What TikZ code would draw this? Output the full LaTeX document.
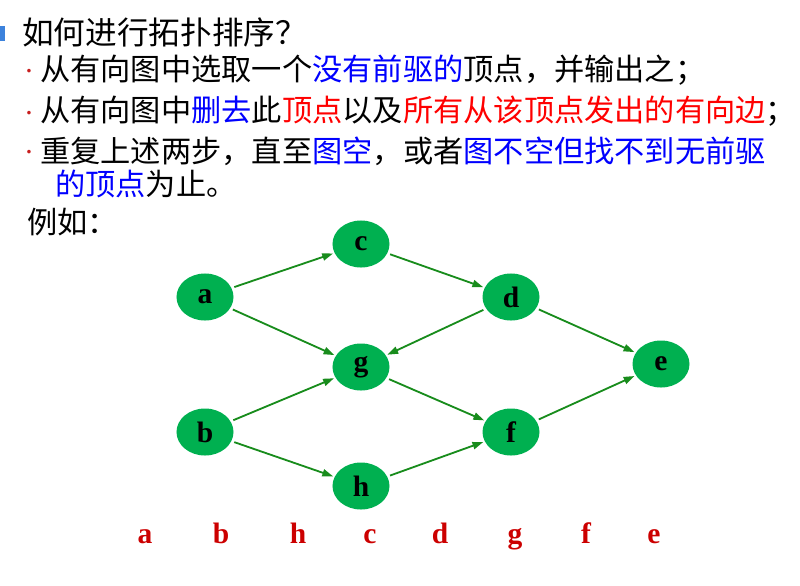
\documentclass[tikz,border=0pt]{standalone}
\usepackage{fontspec}
\setmainfont{Liberation Serif}
\newfontfamily\cjk{Noto Sans CJK SC}
\usepackage{xcolor}
\usetikzlibrary{shapes.geometric, arrows.meta}

\definecolor{nodegreen}{RGB}{0,176,80}
\definecolor{arcgreen}{RGB}{24,140,28}
\definecolor{seqred}{RGB}{204,0,0}
\definecolor{tagblue}{RGB}{60,130,220}
\definecolor{dotred}{RGB}{200,30,30}
\newcommand{\bl}[1]{\textcolor{blue}{#1}}
\newcommand{\rd}[1]{\textcolor{red}{#1}}

\begin{document}
\begin{tikzpicture}[
    x=0.025cm, y=-0.025cm,
    vertex/.style={ellipse, fill=nodegreen, minimum width=1.425cm, minimum height=1.175cm, inner sep=0pt, font=\fontsize{21}{21}\selectfont\bfseries},
    arrow/.style={-{Triangle[length=2.7mm, width=1.8mm]}, line width=1.3pt, draw=arcgreen, shorten <=2pt, shorten >=1pt},
    textline/.style={anchor=west, inner sep=0pt, font=\cjk\fontsize{21.5}{26}\selectfont},
    dotmark/.style={inner sep=0pt, text=dotred, font=\cjk\fontsize{12}{12}\selectfont},
    seqlabel/.style={anchor=base, inner sep=0pt, text=seqred, font=\fontsize{21}{21}\selectfont\bfseries},
]
\useasboundingbox (0,0) rectangle (800,585);

% Title and rules
\fill[tagblue] (0,26) rectangle (5,41);
\node[textline, font=\cjk\fontsize{22.5}{26}\selectfont] (title) at (22,32) {如何进行拓扑排序？};
\node[dotmark] (dot1) at (29,73) {·};
\node[textline] (rule1) at (40,70) {从有向图中选取一个\bl{没有前驱的}顶点，并输出之；};
\node[dotmark] (dot2) at (29,115) {·};
\node[textline] (rule2) at (40,111) {从有向图中\bl{删去}此\rd{顶点}以及\rd{所有从该顶点发出的有向边}；};
\node[dotmark] (dot3) at (29,154) {·};
\node[textline] (rule3) at (40,151) {重复上述两步，直至\bl{图空}，或者\bl{图不空但找不到无前驱}};
\node[textline] (rule4) at (55,184) {\bl{的顶点}为止。};
\node[textline] (eg) at (27,222) {例如：};

% Vertices
\node[vertex] (a) at (205,297) {a};
\node[vertex] (b) at (205,432) {b};
\node[vertex] (c) at (361,244) {c};
\node[vertex] (g) at (361,367) {g};
\node[vertex] (h) at (361,486) {h};
\node[vertex] (d) at (511,297) {d};
\node[vertex] (f) at (511,432) {f};
\node[vertex] (e) at (661,364) {e};

% Arcs
\draw[arrow] (a) -- (c);
\draw[arrow] (a) -- (g);
\draw[arrow] (b) -- (g);
\draw[arrow] (b) -- (h);
\draw[arrow] (c) -- (d);
\draw[arrow] (d) -- (g);
\draw[arrow] (d) -- (e);
\draw[arrow] (g) -- (f);
\draw[arrow] (h) -- (f);
\draw[arrow] (f) -- (e);

% Topological order
\node[seqlabel] (s1) at (145,543) {a};
\node[seqlabel] (s2) at (221,543) {b};
\node[seqlabel] (s3) at (298,543) {h};
\node[seqlabel] (s4) at (370,543) {c};
\node[seqlabel] (s5) at (440,543) {d};
\node[seqlabel] (s6) at (515,543) {g};
\node[seqlabel] (s7) at (586,543) {f};
\node[seqlabel] (s8) at (654,543) {e};

\end{tikzpicture}
\end{document}
